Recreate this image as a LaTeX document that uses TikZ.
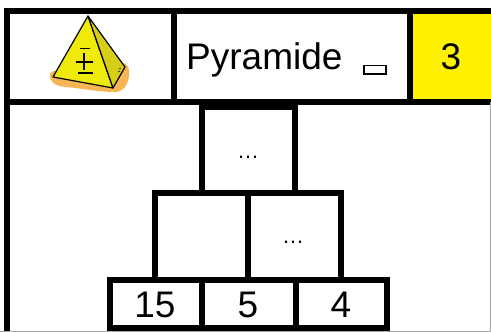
\documentclass[tikz,border=0pt]{standalone}
\usepackage{fontspec}
\setmainfont{Liberation Sans}
\definecolor{shadoworange}{RGB}{247,182,84}
\definecolor{faceyellow}{RGB}{240,234,10}
\definecolor{sideyellow}{RGB}{214,206,24}
\begin{document}
\begin{tikzpicture}[x=1pt,y=-1pt,
  cell/.style={draw=black,line width=6pt,rectangle,inner sep=0pt,outer sep=0pt,fill=white},
  big/.style={font=\fontsize{37}{40}\selectfont,inner sep=0pt},
  dots/.style={font=\fontsize{22}{24}\selectfont,inner sep=0pt}]
\clip (0,0) rectangle (491,332);
\fill[white] (0,0) rectangle (491,332);
% header cells
\node[cell,minimum width=167pt,minimum height=91pt,anchor=north west] (icon) at (7,11) {};
\node[cell,minimum width=236pt,minimum height=91pt,anchor=north west] (title) at (174,11) {};
\node[cell,fill=yellow,minimum width=100pt,minimum height=91pt,anchor=north west] (num) at (410,11) {};
\coordinate (frameend) at (7,340);
\draw[line width=6pt] (icon.south west) -- (frameend);
% outer faint border
\draw[gray!70,line width=0.8pt] (0,331.6) -- (490.6,331.6) -- (490.6,102);
% texts
\node[big,anchor=base west] (titletext) at (186,70) {Pyramide};
\draw[line width=1.3pt] (364,65.5) rectangle (386,74.5);
\draw[line width=2.5pt] (363.5,74) -- (386.5,74);
\node[big,anchor=base] (numtext) at (451,70) {3};
% pyramid icon
\fill[shadoworange]
  (50,74) .. controls (49,82) and (55,86) .. (66,87)
  .. controls (85,89) and (100,92) .. (116,92)
  .. controls (125,91) and (130,82) .. (129,70)
  .. controls (128,63) and (123,62) .. (118,63)
  -- (60,70) .. controls (54,70) and (51,72) .. (50,74) -- cycle;
\coordinate (pa) at (88,16);
\coordinate (pl) at (53,77);
\coordinate (pf) at (113,88);
\coordinate (pr) at (125,67);
\filldraw[fill=faceyellow,draw=black,line width=1.2pt,line join=round]
  (pa) -- (pl) -- (pf) -- cycle;
\filldraw[fill=sideyellow,draw=black,line width=1.2pt,line join=round]
  (pa) -- (pf) -- (pr) -- cycle;
\draw[line width=2.6pt] (76,62) -- (93,62);
\draw[line width=2.6pt] (84,53) -- (84,70);
\draw[line width=0.8pt] (80,48) -- (90,48);
\draw[line width=1.2pt] (78,73) -- (93,73);
\draw[line width=0.5pt] (119,69) -- (121,68) (118,72) -- (120,71);
% pyramid cells
\node[cell,minimum width=93pt,minimum height=86pt,anchor=north west] (top) at (202,107) {};
\node[cell,minimum width=93pt,minimum height=87pt,anchor=north west] (ml) at (155,193) {};
\node[cell,minimum width=93pt,minimum height=87pt,anchor=north west] (mr) at (248,193) {};
\node[cell,minimum width=92pt,minimum height=48pt,anchor=north west] (b1) at (110,280) {};
\node[cell,minimum width=94pt,minimum height=48pt,anchor=north west] (b2) at (202,280) {};
\node[cell,minimum width=91pt,minimum height=48pt,anchor=north west] (b3) at (296,280) {};
\node[dots] (topdots) at (248,157) {…};
\node[dots] (mrdots) at (293,242) {…};
\node[big,anchor=base] (t15) at (155,317) {15};
\node[big,anchor=base] (t5) at (248,317) {5};
\node[big,anchor=base] (t4) at (341,317) {4};
\end{tikzpicture}
\end{document}
